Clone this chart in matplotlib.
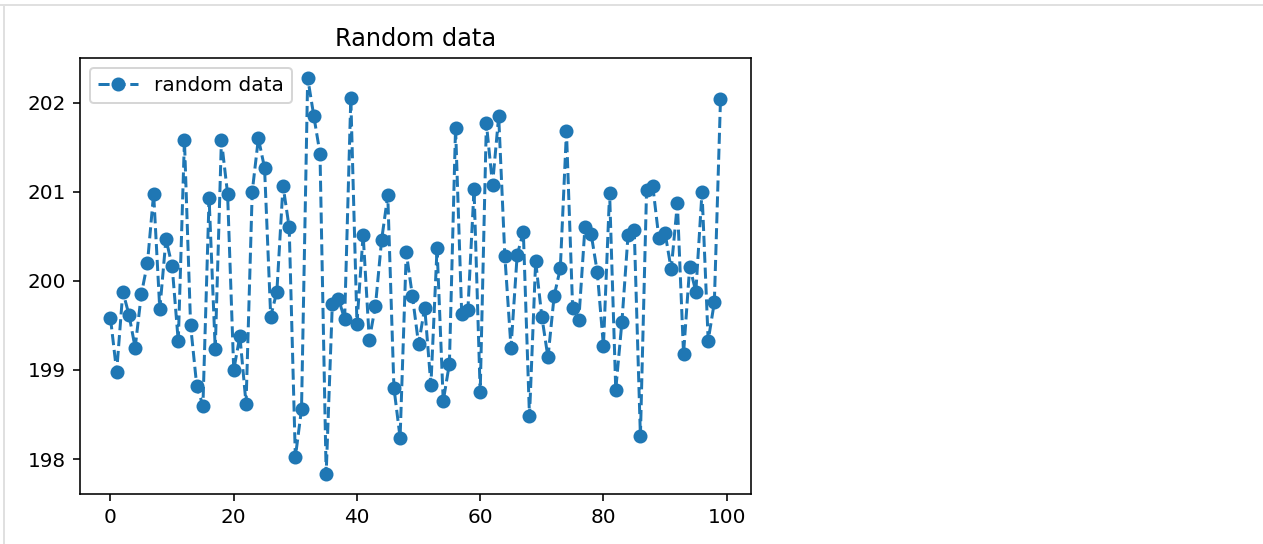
import matplotlib.pyplot as plt
from matplotlib.lines import Line2D

# values
x = list(range(100))
values = [
    199.58, 198.98, 199.88, 199.62, 199.25, 199.85, 200.20, 200.98, 199.68, 200.47,
    200.17, 199.32, 201.58, 199.50, 198.82, 198.60, 200.93, 199.23, 201.58, 200.98,
    199.00, 199.38, 198.62, 201.00, 201.60, 201.27, 199.60, 199.88, 201.07, 200.60,
    198.02, 198.56, 202.28, 201.85, 201.43, 197.83, 199.74, 199.80, 199.57, 202.05,
    199.52, 200.52, 199.34, 199.72, 200.46, 200.96, 198.80, 198.24, 200.32, 199.83,
    199.29, 199.70, 198.83, 200.37, 198.65, 199.07, 201.72, 199.63, 199.67, 201.03,
    198.75, 201.77, 201.08, 201.85, 200.28, 199.25, 200.29, 200.55, 198.48, 200.22,
    199.60, 199.14, 199.83, 200.14, 201.68, 199.70, 199.56, 200.60, 200.53, 200.10,
    199.27, 200.99, 198.78, 199.54, 200.52, 200.57, 198.26, 201.02, 201.07, 200.48,
    200.54, 200.13, 200.87, 199.18, 200.16, 199.88, 201.00, 199.33, 199.76, 202.04,
]

fig = plt.figure(figsize=(1263 / 144, 544 / 144), dpi=144)
ax = fig.add_axes([80 / 1263, 50 / 544, 671 / 1263, 436 / 544])

ax.plot(x, values, '--o', color='#1f77b4', label='random data')
ax.set_title('Random data')
ax.legend(loc='upper left')

# notebook output-area frame
fig.add_artist(Line2D([0, 1], [1 - 5 / 544, 1 - 5 / 544], color='#e0e0e0', lw=1))
fig.add_artist(Line2D([4 / 1263, 4 / 1263], [0, 1 - 5 / 544], color='#e0e0e0', lw=1))

fig.savefig('out.png', dpi=144)
